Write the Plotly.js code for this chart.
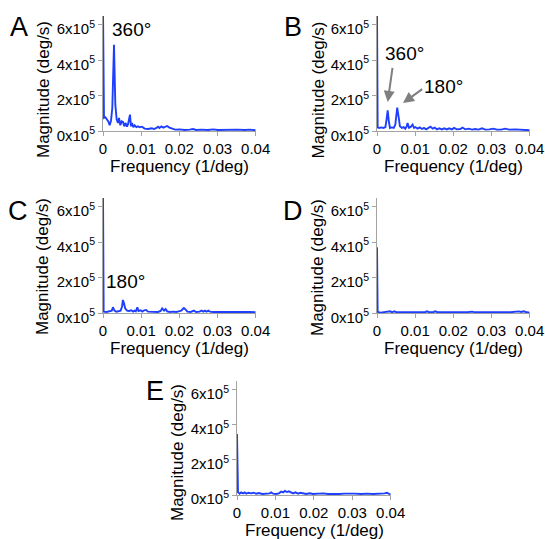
<!DOCTYPE html>
<html>
<head>
<meta charset="utf-8">
<script src="https://cdn.plot.ly/plotly-3.0.1.min.js"></script>
<style>html,body{margin:0;padding:0;background:#fff;}#chart{width:545px;height:539px;}</style>
</head>
<body>
<div id="chart"></div>
<script>
// ---- data (frequency in 1/deg, magnitude in deg/s) ----
var freqA = [0,0.00026,0.00061,0.00105,0.0014,0.00175,0.0021,0.00244,0.00288,0.00323,0.00358,0.00393,0.00419,0.00454,0.00489,0.00524,0.00558,0.00593,0.00628,0.00654,0.00707,0.00733,0.00759,0.00794,0.00829,0.00873,0.00916,0.0096,0.0102,0.0109,0.0118,0.0127,0.0134,0.014,0.0144,0.0148,0.0153,0.0158,0.0163,0.0168,0.0174,0.0181,0.0189,0.0201,0.0214,0.0227,0.0236,0.0244,0.0257,0.0275,0.0288,0.0301,0.0318,0.0336,0.0353,0.0371,0.0384,0.04];
var magA  = [680000,75000,79000,66000,56000,34000,60000,131000,488000,150000,66000,47000,75000,34000,56000,53000,28000,47000,26000,38000,94000,28000,47000,23000,34000,24000,28000,23000,26000,15000,13000,17000,13000,19000,26000,19000,28000,21000,24000,30000,21000,15000,9400,11000,7500,9400,13000,7500,9400,7500,11000,7500,9400,7500,9400,7500,9400,5600];

var freqB = [0,0.00017,0.0006,0.0011,0.0017,0.0022,0.0025,0.0028,0.0031,0.0034,0.0039,0.0044,0.0048,0.0053,0.0057,0.006,0.0065,0.007,0.0074,0.0078,0.008,0.0084,0.0088,0.0093,0.0097,0.0101,0.0106,0.0112,0.0118,0.0123,0.0129,0.0135,0.014,0.0146,0.0151,0.0157,0.0163,0.017,0.0176,0.0183,0.0189,0.0196,0.0202,0.0209,0.0218,0.0224,0.0231,0.024,0.0249,0.0257,0.0266,0.0275,0.0284,0.0294,0.0305,0.0314,0.0325,0.0336,0.0346,0.0362,0.0375,0.0388,0.04];
var magB  = [680000,22000,19000,22000,19000,24000,66000,118000,56000,19000,22000,19000,38000,133000,75000,28000,19000,24000,15000,28000,47000,19000,24000,38000,19000,24000,15000,22000,13000,19000,11000,17000,26000,15000,21000,11000,17000,11000,17000,11000,17000,11000,19000,11000,13000,21000,11000,15000,9400,13000,9400,17000,9400,11000,15000,9400,9400,15000,9400,11000,9400,7500,5600];

var freqC = [0,0.00017,0.0009,0.0017,0.0023,0.0026,0.003,0.0035,0.0041,0.0046,0.005,0.0052,0.0055,0.0058,0.0063,0.0068,0.0074,0.0079,0.0083,0.0086,0.009,0.0093,0.0099,0.0103,0.0108,0.0113,0.0118,0.0127,0.0135,0.0144,0.0151,0.0155,0.016,0.0164,0.0168,0.0175,0.0183,0.0192,0.0198,0.0205,0.0209,0.0212,0.0216,0.0221,0.023,0.0238,0.0244,0.0253,0.0258,0.0263,0.0267,0.0271,0.0276,0.028,0.0288,0.0301,0.031,0.0318,0.0332,0.034,0.0349,0.0358,0.0371,0.0384,0.04];
var magC  = [680000,9400,7500,9400,15000,34000,15000,9400,13000,15000,38000,75000,56000,28000,15000,13000,17000,9400,15000,11000,34000,13000,17000,9400,17000,19000,9400,7500,9400,7500,13000,28000,15000,24000,11000,7500,9400,7500,11000,15000,24000,30000,22000,9400,7500,15000,7500,9400,15000,9400,15000,9400,15000,9400,7500,7500,11000,7500,7500,11000,7500,9400,7500,7500,5600];

var freqD = [0,0.00017,0.0009,0.0017,0.0026,0.0035,0.0039,0.0046,0.0051,0.0061,0.0074,0.0087,0.01,0.0113,0.0127,0.0131,0.0137,0.0148,0.0153,0.0159,0.017,0.0183,0.0196,0.0209,0.0223,0.0236,0.0249,0.0257,0.0271,0.0284,0.0297,0.031,0.0323,0.0336,0.0349,0.036,0.0371,0.0378,0.0384,0.039,0.04];
var magD  = [372000,7500,3800,5600,5600,11000,5600,11000,5600,5600,3800,5600,3800,5600,7500,11000,5600,7500,11000,5600,5600,3800,5600,5600,7500,5600,9400,5600,5600,7500,5600,5600,7500,5600,5600,7500,11000,7500,11000,7500,3800];

var freqE = [0,0.00026,0.0007,0.0011,0.0016,0.002,0.0024,0.003,0.0037,0.0043,0.005,0.0057,0.0066,0.0076,0.0085,0.0089,0.0094,0.0102,0.0109,0.0115,0.012,0.0125,0.013,0.0135,0.0141,0.0146,0.0152,0.0159,0.0165,0.0172,0.018,0.0189,0.0198,0.0211,0.0224,0.0237,0.025,0.0266,0.028,0.0293,0.0306,0.0324,0.0337,0.0354,0.0371,0.0384,0.039,0.0396,0.04];
var magE  = [349000,15000,7600,15000,9500,15000,7600,13000,9500,13000,7600,11000,5700,7600,9500,15000,7600,5700,9500,19000,15000,23000,17000,21000,17000,9500,15000,7600,13000,7600,5700,9500,5700,7600,9500,5700,7600,5700,7600,5700,7600,5700,7600,5700,5700,9500,13000,7600,2000];

var xTickVals  = [0, 0.01, 0.02, 0.03, 0.04];
var xTickText  = ['0', '0.01', '0.02', '0.03', '0.04'];
var yTickVals  = [0, 200000, 400000, 600000];
var yTickText  = ['0x10<sup>5</sup>', '2x10<sup>5</sup>', '4x10<sup>5</sup>', '6x10<sup>5</sup>'];
var panelLetters = ['A', 'B', 'C', 'D', 'E'];
var xTitle = 'Frequency (1/deg)';
var yTitle = 'Magnitude (deg/s)';

// ---- layout geometry (pixels) ----
var W = 545, H = 539;
function px(x){ return x / W; }
function py(y){ return 1 - y / H; }

var FONT = 'Liberation Sans, Arial, Helvetica, sans-serif';
var BLUE = '#1f3fff';
var GREY = '#a3a3a3';

// panel boxes: [left, right, bottom(y of zero), top]
var boxes = [
  [103, 255.7, 131.3, 15.9],
  [377, 529.7, 131.3, 15.9],
  [103, 255.7, 313.3, 197.9],
  [377, 529.7, 313.3, 197.9],
  [237, 390.7, 495.0, 381.2]
];
var series = [[freqA, magA], [freqB, magB], [freqC, magC], [freqD, magD], [freqE, magE]];

var data = [];
var layout = {
  width: W, height: H,
  margin: {l: 0, r: 0, t: 0, b: 0},
  paper_bgcolor: '#ffffff', plot_bgcolor: 'rgba(0,0,0,0)',
  showlegend: false,
  annotations: []
};

series.forEach(function(s, i){
  var n = i === 0 ? '' : String(i + 1);
  data.push({
    type: 'scatter', mode: 'lines',
    x: s[0], y: s[1],
    xaxis: 'x' + n, yaxis: 'y' + n,
    line: {color: BLUE, width: 1.9},
    hoverinfo: 'skip'
  });
  var b = boxes[i];
  layout['xaxis' + n] = {
    domain: [px(b[0]), px(b[1])], anchor: 'y' + n,
    range: [0, 0.04], showgrid: false, zeroline: false,
    showline: true, linecolor: GREY, linewidth: 1,
    ticks: 'outside', ticklen: 4, tickcolor: GREY, tickwidth: 1,
    tickvals: xTickVals, ticktext: xTickText,
    tickfont: {family: FONT, size: 15, color: '#000'},
    ticklabeloverflow: 'allow',
    layer: 'below traces', fixedrange: true
  };
  layout['yaxis' + n] = {
    domain: [py(b[2]), py(b[3])], anchor: 'x' + n,
    range: [0, 650000], showgrid: false, zeroline: false,
    showline: true, linecolor: GREY, linewidth: 1,
    ticks: 'outside', ticklen: 4, tickcolor: GREY, tickwidth: 1,
    tickvals: yTickVals, ticktext: yTickText,
    tickfont: {family: FONT, size: 15, color: '#000'},
    ticklabelshift: 4,
    layer: 'below traces', fixedrange: true
  };
});

function ann(text, x, y, size, extra){
  var a = {text: text, x: px(x), y: py(y), xref: 'paper', yref: 'paper',
           showarrow: false, xanchor: 'center', yanchor: 'middle',
           font: {family: FONT, size: size, color: '#000'}};
  if (extra) for (var k in extra) a[k] = extra[k];
  layout.annotations.push(a);
}

// panel letters
var letterPos = [[19, 27], [293, 27], [18, 211], [293, 211], [155, 391]];
panelLetters.forEach(function(L, i){ ann(L, letterPos[i][0], letterPos[i][1], 27); });

// axis titles
var yTitlePos = [[43, 90], [317.5, 90], [42, 267], [317, 268], [177, 453]];
var xTitlePos = [[179, 166], [453.5, 166], [179, 348], [453, 348], [314, 530]];
for (var i = 0; i < 5; i++) {
  ann(yTitle, yTitlePos[i][0], yTitlePos[i][1], 17, {textangle: -90});
  ann(xTitle, xTitlePos[i][0], xTitlePos[i][1], 17);
}

// peak labels
ann('360°', 131, 30, 19);
ann('360°', 404, 54, 19);
ann('180°', 443.5, 86, 19);
ann('180°', 125.5, 281, 19);

// arrows in panel B
function arrow(tipX, tipY, tailX, tailY){
  layout.annotations.push({
    text: '', x: px(tipX), y: py(tipY), xref: 'paper', yref: 'paper',
    showarrow: true, ax: tailX - tipX, ay: tailY - tipY, axref: 'pixel', ayref: 'pixel',
    arrowhead: 2, arrowsize: 1.1, arrowwidth: 2, arrowcolor: '#7f7f7f', standoff: 0, startstandoff: 0
  });
}
arrow(387.7, 102, 392.7, 66.3);
arrow(403, 103, 423.7, 88);

Plotly.newPlot('chart', data, layout, {staticPlot: true, displayModeBar: false});
</script>
</body>
</html>
